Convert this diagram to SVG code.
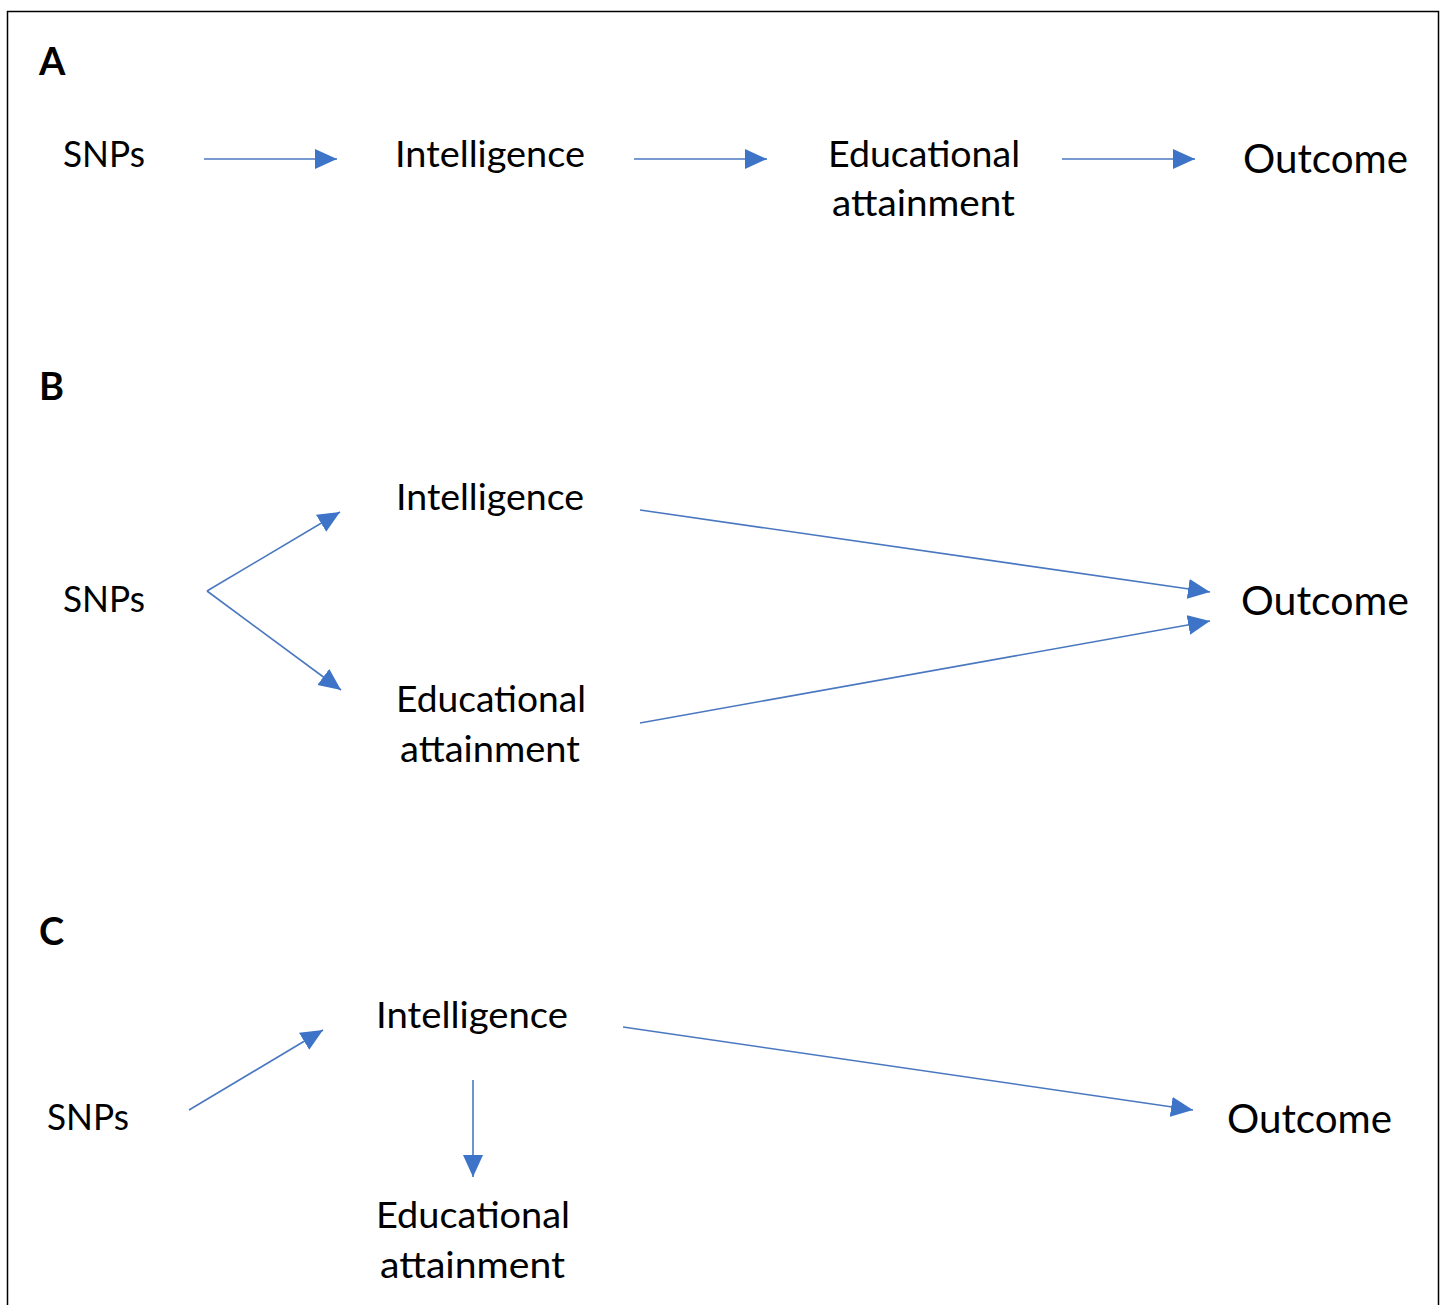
<svg xmlns="http://www.w3.org/2000/svg" width="1444" height="1305" viewBox="0 0 1444 1305">
<defs>
<marker id="ah" markerUnits="userSpaceOnUse" markerWidth="26" markerHeight="22" refX="22" refY="10" orient="auto">
<path d="M0,0 L22,10 L0,20 Z" fill="#3E74C8"/>
</marker>
<style>
.t{font-family:Lato,"Liberation Sans",sans-serif;font-size:37px;fill:#000}
.o{font-family:Lato,"Liberation Sans",sans-serif;font-size:41px;fill:#000}
.p{font-family:Lato,"Liberation Sans",sans-serif;font-size:38px;font-weight:bold;fill:#000}
.c{stroke:#4A78C0;stroke-width:1.6;fill:none;marker-end:url(#ah)}
</style>
</defs>
<rect x="0" y="0" width="1444" height="1305" fill="#fff"/>
<rect x="7.5" y="11.5" width="1431" height="1305" fill="none" stroke="#000" stroke-width="1.5"/>
<text class="p" x="39" y="75">A</text>
<text class="p" x="39" y="400">B</text>
<text class="p" x="39" y="945">C</text>
<g id="connectors">
<line class="c" x1="204" y1="159" x2="337" y2="159"/>
<line class="c" x1="634" y1="159" x2="767" y2="159"/>
<line class="c" x1="1062" y1="159" x2="1195" y2="159"/>
<line class="c" x1="207" y1="591" x2="340" y2="512"/>
<line class="c" x1="207" y1="591" x2="341" y2="690"/>
<line class="c" x1="640" y1="510" x2="1210" y2="592"/>
<line class="c" x1="640" y1="723" x2="1210" y2="621"/>
<line class="c" x1="189" y1="1110" x2="323" y2="1030"/>
<line class="c" x1="473" y1="1080" x2="473" y2="1177"/>
<line class="c" x1="623" y1="1027" x2="1193" y2="1110"/>
</g>
<g id="A_snps"><text class="t" x="63" y="167" textLength="82" lengthAdjust="spacingAndGlyphs">SNPs</text></g>
<g id="A_intel"><text class="t" x="395" y="167" textLength="190" lengthAdjust="spacingAndGlyphs">Intelligence</text></g>
<g id="A_edu"><text class="t" x="828" y="167" textLength="192" lengthAdjust="spacingAndGlyphs">Educational</text><text class="t" x="832" y="216" textLength="183" lengthAdjust="spacingAndGlyphs">attainment</text></g>
<g id="A_out"><text class="o" x="1243" y="173" textLength="165" lengthAdjust="spacingAndGlyphs">Outcome</text></g>
<g id="B_snps"><text class="t" x="63" y="612" textLength="82" lengthAdjust="spacingAndGlyphs">SNPs</text></g>
<g id="B_intel"><text class="t" x="396" y="510" textLength="188" lengthAdjust="spacingAndGlyphs">Intelligence</text></g>
<g id="B_edu"><text class="t" x="396" y="712" textLength="190" lengthAdjust="spacingAndGlyphs">Educational</text><text class="t" x="400" y="762" textLength="180" lengthAdjust="spacingAndGlyphs">attainment</text></g>
<g id="B_out"><text class="o" x="1241" y="615" textLength="168" lengthAdjust="spacingAndGlyphs">Outcome</text></g>
<g id="C_snps"><text class="t" x="47" y="1130" textLength="82" lengthAdjust="spacingAndGlyphs">SNPs</text></g>
<g id="C_intel"><text class="t" x="376" y="1028" textLength="192" lengthAdjust="spacingAndGlyphs">Intelligence</text></g>
<g id="C_edu"><text class="t" x="376" y="1228" textLength="194" lengthAdjust="spacingAndGlyphs">Educational</text><text class="t" x="380" y="1278" textLength="185" lengthAdjust="spacingAndGlyphs">attainment</text></g>
<g id="C_out"><text class="o" x="1227" y="1133" textLength="165" lengthAdjust="spacingAndGlyphs">Outcome</text></g>
</svg>
